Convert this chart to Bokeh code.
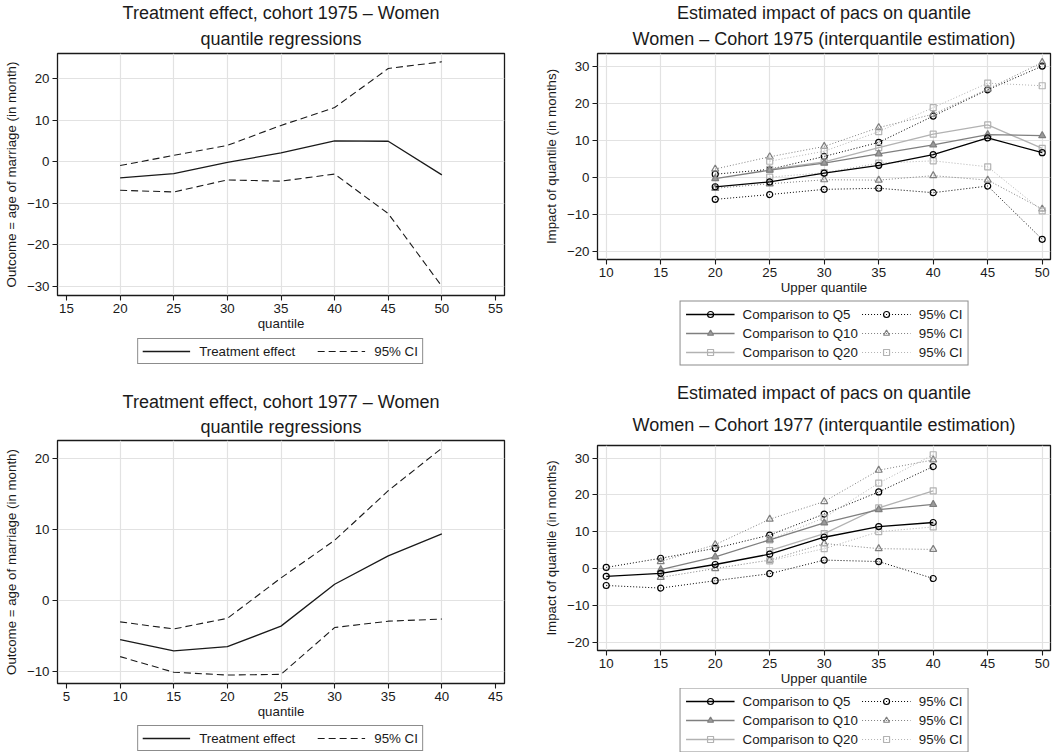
from bokeh.plotting import figure
from bokeh.models import FixedTicker, Range1d, Title, Legend, LegendItem
from bokeh.embed import file_html
from bokeh.resources import INLINE

FONT = "Liberation Sans"
TXT = "#1a1a1a"

# ---------------- data ----------------
# Treatment effect, cohort 1975
q_75 = [20, 25, 30, 35, 40, 45, 50]
te_75 = [-3.9, -2.9, -0.2, 2.1, 5.0, 4.9, -3.2]
te_75_hi = [-0.95, 1.5, 3.9, 8.7, 13.0, 22.4, 24.0]
te_75_lo = [-6.9, -7.3, -4.4, -4.7, -3.0, -12.5, -30.0]

# Treatment effect, cohort 1977
q_77 = [10, 15, 20, 25, 30, 35, 40]
te_77 = [-5.5, -7.1, -6.5, -3.6, 2.3, 6.3, 9.4]
te_77_hi = [-3.0, -4.0, -2.5, 3.2, 8.5, 15.5, 21.5]
te_77_lo = [-7.9, -10.1, -10.5, -10.4, -3.8, -2.9, -2.6]

# Interquantile estimation, cohort 1975
u5_75 = [20, 25, 30, 35, 40, 45, 50]
c5_75 = [-2.6, -1.3, 1.1, 3.2, 6.1, 10.6, 6.6]
c5_75_hi = [0.8, 2.1, 5.6, 9.4, 16.5, 23.6, 30.0]
c5_75_lo = [-6.0, -4.7, -3.3, -3.0, -4.2, -2.4, -16.8]
u10_75 = [20, 25, 30, 35, 40, 45, 50]
c10_75 = [-0.4, 1.9, 3.8, 6.3, 8.7, 11.5, 11.2]
c10_75_hi = [2.2, 5.5, 8.3, 13.4, 17.0, 23.8, 31.0]
c10_75_lo = [-3.0, -1.8, -0.7, -0.8, 0.4, -0.8, -8.6]
u20_75 = [25, 30, 35, 40, 45, 50]
c20_75 = [2.1, 4.1, 8.0, 11.6, 14.1, 7.8]
c20_75_hi = [4.3, 7.0, 12.3, 18.8, 25.4, 24.7]
c20_75_lo = [0.0, 1.2, 3.8, 4.4, 2.8, -9.1]

# Interquantile estimation, cohort 1977
u5_77 = [10, 15, 20, 25, 30, 35, 40]
c5_77 = [-2.1, -1.3, 1.1, 3.9, 8.5, 11.4, 12.5]
c5_77_hi = [0.3, 2.8, 5.5, 9.1, 14.8, 20.8, 27.7]
c5_77_lo = [-4.6, -5.3, -3.3, -1.4, 2.3, 1.9, -2.7]
u10_77 = [15, 20, 25, 30, 35, 40]
c10_77 = [-0.3, 3.2, 7.8, 12.4, 16.0, 17.4]
c10_77_hi = [1.9, 6.5, 13.4, 18.2, 26.7, 29.5]
c10_77_lo = [-2.4, 0.0, 2.3, 6.8, 5.4, 5.2]
u20_77 = [25, 30, 35, 40]
c20_77 = [4.9, 9.5, 16.5, 21.1]
c20_77_hi = [7.8, 13.8, 23.2, 30.9]
c20_77_lo = [2.1, 5.4, 10.0, 11.3]

# ticks / labels
xt_tl = [15, 20, 25, 30, 35, 40, 45, 50, 55]
xg_tl = [20, 25, 30, 35, 40, 45, 50]
yt_tl = [-30, -20, -10, 0, 10, 20]
xt_bl = [5, 10, 15, 20, 25, 30, 35, 40, 45]
xg_bl = [10, 15, 20, 25, 30, 35, 40]
yt_bl = [-10, 0, 10, 20]
xt_r = [10, 15, 20, 25, 30, 35, 40, 45, 50]
yt_r = [-20, -10, 0, 10, 20, 30]

TITLE_L = ["Treatment effect, cohort 1975 \u2013 Women", "quantile regressions"]
TITLE_L2 = ["Treatment effect, cohort 1977 \u2013 Women", "quantile regressions"]
TITLE_R = ["Estimated impact of pacs on quantile", "Women \u2013 Cohort 1975 (interquantile estimation)"]
TITLE_R2 = ["Estimated impact of pacs on quantile", "Women \u2013 Cohort 1977 (interquantile estimation)"]
XLAB_L = "quantile"
YLAB_L = "Outcome = age of marriage (in month)"
XLAB_R = "Upper quantile"
YLAB_R = "Impact of quantile (in months)"
LEG_L = ["Treatment effect", "95% CI"]
LEG_R = ["Comparison to Q5", "Comparison to Q10", "Comparison to Q20", "95% CI"]

# legend-key sample glyphs are placed outside the (0..1) view of the legend figure
KEY_X = [5, 6]
KEY_Y = [5, 5]


def lbl(v):
    return str(v).replace("-", "\u2212")


def style_title(t, standoff):
    t.align = "center"
    t.text_font = FONT
    t.text_font_size = "18px"
    t.text_font_style = "normal"
    t.text_color = TXT
    t.standoff = standoff


def make_fig(fw, fh, xr, yr, borders, xticks, xgrid, yticks, xlab, ylab, titles, tstand):
    p = figure(frame_width=fw, frame_height=fh, x_range=Range1d(*xr), y_range=Range1d(*yr),
               output_backend="svg", toolbar_location=None, title=titles[0],
               min_border_left=borders[0], min_border_right=borders[1],
               min_border_top=borders[2], min_border_bottom=borders[3])
    p.background_fill_color = "white"
    p.border_fill_color = "white"
    p.outline_line_color = TXT
    p.outline_line_width = 1.3
    style_title(p.title, 0)
    t2 = Title(text=titles[1])
    style_title(t2, tstand)
    p.add_layout(t2, "above")
    for ax in (p.xaxis[0], p.yaxis[0]):
        ax.axis_line_color = None
        ax.major_tick_line_color = TXT
        ax.major_tick_line_width = 1.1
        ax.major_tick_out = 5
        ax.major_tick_in = 0
        ax.minor_tick_line_color = None
        ax.major_label_text_font = FONT
        ax.major_label_text_font_size = "13.3px"
        ax.major_label_text_color = TXT
        ax.axis_label_text_font = FONT
        ax.axis_label_text_font_size = "13.3px"
        ax.axis_label_text_font_style = "normal"
        ax.axis_label_text_color = TXT
        ax.major_label_standoff = 3
    p.xaxis.axis_label_standoff = 0
    p.yaxis.axis_label_standoff = 5
    p.xaxis.ticker = FixedTicker(ticks=xticks)
    p.yaxis.ticker = FixedTicker(ticks=yticks)
    p.yaxis.major_label_overrides = {v: lbl(v) for v in yticks}
    p.xaxis.major_label_overrides = {v: lbl(v) for v in xticks}
    p.xaxis.axis_label = xlab
    p.yaxis.axis_label = ylab
    p.xgrid.ticker = FixedTicker(ticks=xgrid)
    p.ygrid.ticker = FixedTicker(ticks=yticks)
    for g in (p.xgrid[0], p.ygrid[0]):
        g.grid_line_color = "#e2e2e2"
        g.grid_line_width = 1.2
    return p


def legend_fig(fw, fh):
    lf = figure(frame_width=fw, frame_height=fh, x_range=Range1d(0, 1), y_range=Range1d(0, 1),
                output_backend="svg", toolbar_location=None, x_axis_type=None, y_axis_type=None,
                min_border=0)
    lf.outline_line_color = None
    lf.background_fill_alpha = 0
    lf.border_fill_alpha = 0
    return lf


def legend_style(leg):
    leg.label_text_font = FONT
    leg.label_text_font_size = "13.3px"
    leg.label_text_color = TXT
    leg.border_line_color = TXT
    leg.border_line_width = 1
    leg.background_fill_color = "white"
    leg.background_fill_alpha = 1
    leg.location = "center"
    leg.margin = 0


def left_panel(fw, fh, xr, yr, borders, xticks, xgrid, yticks, titles, tstand, lh, q, te, hi, lo):
    p = make_fig(fw, fh, xr, yr, borders, xticks, xgrid, yticks, XLAB_L, YLAB_L, titles, tstand)
    p.line(q, hi, line_color=TXT, line_width=1.1, line_dash="7 4")
    p.line(q, lo, line_color=TXT, line_width=1.1, line_dash="7 4")
    p.line(q, te, line_color=TXT, line_width=1.3)
    lf = legend_fig(300, lh)
    k_te = lf.line(KEY_X, KEY_Y, line_color=TXT, line_width=1.3)
    k_ci = lf.line(KEY_X, KEY_Y, line_color=TXT, line_width=1.1, line_dash="7 4")
    leg = Legend(items=[LegendItem(label=LEG_L[0], renderers=[k_te]),
                        LegendItem(label=LEG_L[1], renderers=[k_ci])],
                 orientation="horizontal")
    legend_style(leg)
    leg.glyph_width = 48
    leg.glyph_height = 16
    leg.label_height = 16
    leg.label_standoff = 9
    leg.spacing = 22
    leg.padding = 4
    lf.add_layout(leg, "center")
    return p, lf


SERIES = [("#000000", "circle", 6, None),
          ("#7f7f7f", "triangle", 7, "#9a9a9a"),
          ("#b2b2b2", "square", 6, None)]


def right_panel(fw, fh, xr, yr, borders, titles, tstand, lh, data):
    p = make_fig(fw, fh, xr, yr, borders, xt_r, xt_r, yt_r, XLAB_R, YLAB_R, titles, tstand)
    for (col, mk, sz, fill), (x, y, hi, lo) in zip(SERIES, data):
        p.line(x, hi, line_color=col, line_width=1.0, line_dash="1 2")
        p.scatter(x, hi, marker=mk, size=sz, line_color=col, fill_color=None, line_width=1.2)
        p.line(x, lo, line_color=col, line_width=1.0, line_dash="1 2")
        p.scatter(x, lo, marker=mk, size=sz, line_color=col, fill_color=None, line_width=1.2)
    for (col, mk, sz, fill), (x, y, hi, lo) in reversed(list(zip(SERIES, data))):
        p.line(x, y, line_color=col, line_width=1.3)
        p.scatter(x, y, marker=mk, size=sz, line_color=col, fill_color=fill, line_width=1.2)
    lf = legend_fig(320, lh)
    main_items, ci_items = [], []
    for i, (col, mk, sz, fill) in enumerate(SERIES):
        kl = lf.line(KEY_X, KEY_Y, line_color=col, line_width=1.3)
        ks = lf.scatter(KEY_X, KEY_Y, marker=mk, size=sz, line_color=col, fill_color=fill, line_width=1.2)
        main_items.append(LegendItem(label=LEG_R[i], renderers=[kl, ks]))
        cl = lf.line(KEY_X, KEY_Y, line_color=col, line_width=1.0, line_dash="1 2")
        cs = lf.scatter(KEY_X, KEY_Y, marker=mk, size=sz, line_color=col, fill_color=None, line_width=1.2)
        ci_items.append(LegendItem(label=LEG_R[3], renderers=[cl, cs]))
    leg = Legend(items=main_items + ci_items, orientation="vertical", nrows=3)
    legend_style(leg)
    leg.glyph_width = 49
    leg.glyph_height = 15
    leg.label_height = 15
    leg.label_standoff = 8
    leg.spacing = 4
    leg.padding = 5
    lf.add_layout(leg, "center")
    return p, lf


p1, l1 = left_panel(447, 242, (14.16, 55.84), (-32.2, 26.0), (57, 24, 52, 40),
                    xt_tl, xg_tl, yt_tl, TITLE_L, 9, 30, q_75, te_75, te_75_hi, te_75_lo)
p2, l2 = right_panel(453, 206, (9.2, 50.76), (-22.25, 33.41), (69, 2, 52, 40), TITLE_R, 9, 70,
                     [(u5_75, c5_75, c5_75_hi, c5_75_lo),
                      (u10_75, c10_75, c10_75_hi, c10_75_lo),
                      (u20_75, c20_75, c20_75_hi, c20_75_lo)])
p3, l3 = left_panel(447, 243, (4.16, 45.84), (-11.69, 22.58), (57, 24, 60, 40),
                    xt_bl, xg_bl, yt_bl, TITLE_L2, 7, 28, q_77, te_77, te_77_hi, te_77_lo)
p4, l4 = right_panel(453, 205, (9.2, 50.76), (-22.25, 33.41), (69, 2, 60, 40), TITLE_R2, 21, 64,
                     [(u5_77, c5_77, c5_77_hi, c5_77_lo),
                      (u10_77, c10_77, c10_77_hi, c10_77_lo),
                      (u20_77, c20_77, c20_77_hi, c20_77_lo)])

POSITIONS = [(0, 0), (528, 0), (0, 380), (528, 380),
             (130, 336), (664, 298), (130, 724), (664, 688)]

TEMPLATE = """
{% from macros import embed %}
{% block contents %}
<div style="position:relative; width:1052px; height:752px; overflow:hidden;">
{% for doc in docs %}{% for root in doc.roots %}
<div style="position:absolute; left:{{ positions[loop.index0][0] }}px; top:{{ positions[loop.index0][1] }}px;">{{ embed(root) }}</div>
{% endfor %}{% endfor %}
</div>
{% endblock %}
"""

open("out.html", "w").write(file_html([p1, p2, p3, p4, l1, l2, l3, l4], INLINE, template=TEMPLATE,
                                      template_variables={"positions": POSITIONS}))
